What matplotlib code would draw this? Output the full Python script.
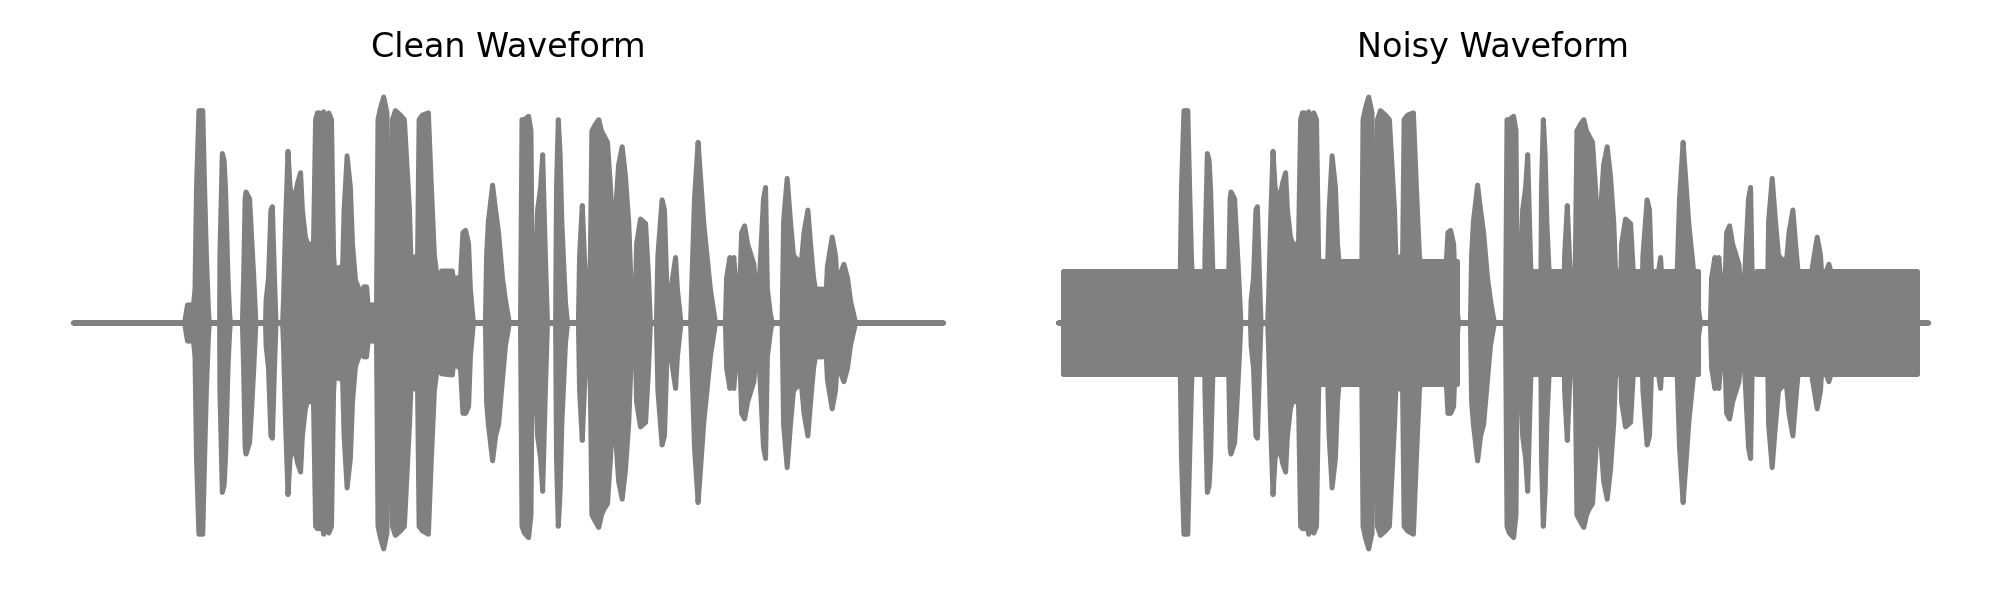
import matplotlib
matplotlib.use("Agg")
import matplotlib.pyplot as plt

# envelope of the clean waveform (time in s, amplitude normalised to the loudest peak)
clean_t = [0.000, 0.370, 0.380, 0.400, 0.405, 0.410, 0.418, 0.431, 0.437, 0.443,
           0.450, 0.453, 0.487, 0.488, 0.496, 0.502, 0.507, 0.515, 0.520, 0.523,
           0.563, 0.567, 0.572, 0.575, 0.587, 0.593, 0.601, 0.608, 0.640, 0.642,
           0.650, 0.658, 0.663, 0.670, 0.675, 0.697, 0.700, 0.707, 0.715, 0.722,
           0.730, 0.740, 0.747, 0.757, 0.763, 0.773, 0.784, 0.793, 0.800, 0.807,
           0.813, 0.820, 0.827, 0.834, 0.843, 0.851, 0.860, 0.867, 0.870, 0.897,
           0.902, 0.912, 0.923, 0.930, 0.940, 0.960, 0.968, 0.977, 0.982, 1.010,
           1.015, 1.023, 1.034, 1.045, 1.050, 1.060, 1.063, 1.073, 1.090, 1.103,
           1.120, 1.125, 1.147, 1.152, 1.163, 1.183, 1.193, 1.203, 1.220, 1.227,
           1.263, 1.268, 1.277, 1.290, 1.298, 1.307, 1.317, 1.323, 1.333, 1.373,
           1.377, 1.383, 1.397, 1.407, 1.417, 1.430, 1.440, 1.453, 1.490, 1.495,
           1.503, 1.517, 1.525, 1.529, 1.540, 1.547, 1.557, 1.564, 1.573, 1.580,
           1.607, 1.610, 1.616, 1.622, 1.628, 1.640, 1.647, 1.683, 1.687, 1.696,
           1.703, 1.707, 1.717, 1.723, 1.728, 1.740, 1.751, 1.760, 1.768, 1.780,
           1.790, 1.801, 1.807, 1.817, 1.829, 1.840, 1.851, 1.860, 1.873, 1.877,
           1.890, 1.907, 1.917, 1.923, 1.943, 1.948, 1.962, 1.970, 1.977, 1.983,
           1.990, 1.997, 2.007, 2.013, 2.025, 2.057, 2.060, 2.070, 2.082, 2.090,
           2.101, 2.123, 2.140, 2.173, 2.177, 2.188, 2.193, 2.201, 2.212, 2.220,
           2.227, 2.237, 2.247, 2.268, 2.279, 2.283, 2.300, 2.307, 2.313, 2.323,
           2.329, 2.362, 2.367, 2.379, 2.390, 2.400, 2.412, 2.427, 2.435, 2.448,
           2.457, 2.467, 2.473, 2.497, 2.507, 2.513, 2.529, 2.540, 2.547, 2.557,
           2.568, 2.580, 2.590, 2.607, 2.900]
clean_upper = [0, 0, 0.08, 0.08, 0.15, 0.60, 0.94, 0.94, 0.60, 0.30,
               0.05, 0, 0, 0.30, 0.75, 0.72, 0.59, 0.20, 0.05, 0,
               0, 0.20, 0.55, 0.58, 0.55, 0.40, 0.20, 0, 0, 0.10,
               0.20, 0.50, 0.515, 0.20, 0, 0, 0.10, 0.45, 0.76, 0.60,
               0.56, 0.57, 0.62, 0.665, 0.50, 0.38, 0.34, 0.35, 0.35, 0.90,
               0.93, 0.93, 0.88, 0.935, 0.90, 0.93, 0.90, 0.30, 0.24, 0.25,
               0.50, 0.74, 0.60, 0.35, 0.19, 0.12, 0.16, 0.16, 0.08, 0.08,
               0.90, 0.95, 1.00, 0.93, 0.12, 0.12, 0.90, 0.94, 0.92, 0.90,
               0.50, 0.28, 0.30, 0.90, 0.92, 0.93, 0.60, 0.30, 0.12, 0.23,
               0.23, 0.16, 0.20, 0.20, 0.40, 0.41, 0.35, 0.15, 0, 0,
               0.30, 0.45, 0.61, 0.50, 0.40, 0.20, 0.10, 0, 0, 0.90,
               0.90, 0.915, 0.85, 0.20, 0.20, 0.50, 0.60, 0.745, 0.30, 0,
               0, 0.60, 0.90, 0.75, 0.44, 0.09, 0, 0, 0.30, 0.52,
               0.30, 0.15, 0.05, 0.30, 0.85, 0.88, 0.90, 0.85, 0.83, 0.80,
               0.60, 0.32, 0.50, 0.70, 0.78, 0.65, 0.44, 0.12, 0.12, 0.35,
               0.46, 0.44, 0.20, 0, 0, 0.30, 0.545, 0.50, 0.20, 0.10,
               0.08, 0.20, 0.29, 0.15, 0, 0, 0.13, 0.55, 0.80, 0.65,
               0.44, 0.15, 0, 0, 0.20, 0.29, 0.20, 0.29, 0.12, 0.10,
               0.40, 0.43, 0.35, 0.26, 0.07, 0.10, 0.55, 0.60, 0.15, 0.04,
               0, 0, 0.45, 0.64, 0.45, 0.30, 0.28, 0.28, 0.40, 0.50,
               0.35, 0.20, 0.15, 0.15, 0.08, 0.25, 0.38, 0.30, 0.15, 0.22,
               0.26, 0.20, 0.10, 0, 0]
clean_lower = [0, 0, -0.08, -0.08, -0.15, -0.60, -0.935, -0.935, -0.60, -0.30,
               -0.05, 0, 0, -0.30, -0.75, -0.72, -0.59, -0.20, -0.05, 0,
               0, -0.20, -0.55, -0.58, -0.53, -0.40, -0.20, 0, 0, -0.10,
               -0.20, -0.50, -0.51, -0.20, 0, 0, -0.10, -0.45, -0.76, -0.60,
               -0.56, -0.57, -0.62, -0.66, -0.50, -0.38, -0.33, -0.35, -0.35, -0.90,
               -0.91, -0.91, -0.88, -0.935, -0.90, -0.93, -0.90, -0.30, -0.24, -0.25,
               -0.50, -0.73, -0.60, -0.35, -0.19, -0.12, -0.15, -0.15, -0.08, -0.08,
               -0.90, -0.95, -1.00, -0.93, -0.12, -0.12, -0.90, -0.94, -0.92, -0.90,
               -0.45, -0.28, -0.30, -0.90, -0.92, -0.935, -0.60, -0.30, -0.12, -0.225,
               -0.23, -0.16, -0.19, -0.20, -0.40, -0.40, -0.37, -0.15, 0, 0,
               -0.35, -0.45, -0.61, -0.50, -0.45, -0.25, -0.10, 0, 0, -0.90,
               -0.93, -0.95, -0.85, -0.20, -0.20, -0.50, -0.60, -0.745, -0.30, 0,
               0, -0.60, -0.90, -0.75, -0.44, -0.09, 0, 0, -0.30, -0.52,
               -0.30, -0.15, -0.05, -0.30, -0.85, -0.88, -0.905, -0.85, -0.825, -0.80,
               -0.60, -0.32, -0.50, -0.70, -0.78, -0.65, -0.44, -0.12, -0.12, -0.35,
               -0.46, -0.44, -0.20, 0, 0, -0.30, -0.54, -0.50, -0.20, -0.10,
               -0.08, -0.20, -0.29, -0.15, 0, 0, -0.13, -0.55, -0.795, -0.65,
               -0.44, -0.15, 0, 0, -0.20, -0.29, -0.20, -0.29, -0.12, -0.10,
               -0.40, -0.425, -0.35, -0.26, -0.07, -0.10, -0.55, -0.60, -0.15, -0.04,
               0, 0, -0.45, -0.64, -0.45, -0.30, -0.28, -0.28, -0.40, -0.50,
               -0.35, -0.20, -0.15, -0.15, -0.08, -0.25, -0.38, -0.30, -0.15, -0.22,
               -0.26, -0.20, -0.10, 0, 0]

# stretches where noise was added to the signal
noise_start = [0.017, 0.707, 1.530, 2.327]
noise_end = [0.557, 1.330, 2.133, 2.863]
noise_level = [0.23, 0.27, 0.23, 0.23]

titles = ['Clean Waveform', 'Noisy Waveform']
wave_color = 'gray'


def draw_wave(ax):
    ax.fill_between(clean_t, clean_lower, clean_upper, color=wave_color,
                    edgecolor=wave_color, lw=1.8, joinstyle='round', capstyle='round')


def main():
    assert len(clean_t) == len(clean_upper) == len(clean_lower)
    fig = plt.figure(figsize=(10, 3), dpi=200)
    axs = fig.subplots(1, 2)
    fig.subplots_adjust(left=0.01475, right=0.98575, bottom=0.0483, top=0.8767, wspace=0.0293)

    draw_wave(axs[0])
    draw_wave(axs[1])
    for s, e, lev in zip(noise_start, noise_end, noise_level):
        axs[1].fill_between([s, e], [-lev, -lev], [lev, lev], color=wave_color,
                            edgecolor=wave_color, lw=1.8, joinstyle='round')

    for ax, title in zip(axs, titles):
        ax.margins(x=0.05, y=0.05)
        ax.set_title(title, fontsize=12)
        ax.axis('off')

    plt.savefig('out.png', dpi=200)


if __name__ == '__main__':
    main()
